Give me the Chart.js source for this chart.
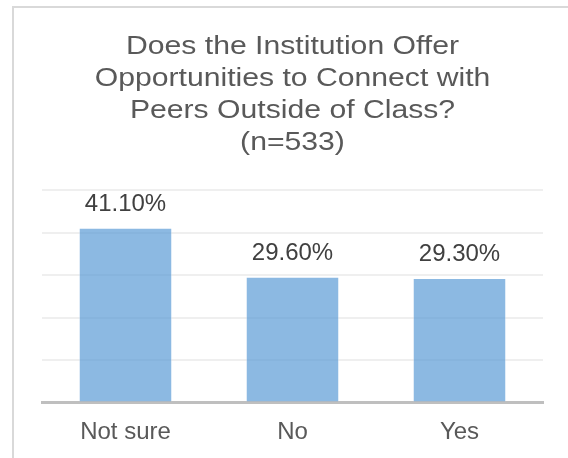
<!DOCTYPE html>
<html>
<head>
<meta charset="utf-8">
<script src="https://cdn.jsdelivr.net/npm/chart.js@4"></script>
<style>
  html, body { margin: 0; padding: 0; background: #fff; }
  #caixa { position: absolute; left: 12px; top: 6px; width: 600px; height: 500px; border: 2px solid #d9d9d9; }
  #grafico { position: absolute; left: 0; top: 0; }
</style>
</head>
<body>
<div id="caixa"></div>
<canvas id="grafico" width="568" height="458"></canvas>
<script>
var categorias = ["Not sure", "No", "Yes"];
var percentuais = [41.1, 29.6, 29.3];
var tituloLinhas = ["Does the Institution Offer", "Opportunities to Connect with", "Peers Outside of Class?", "(n=533)"];

var fonte = "'Liberation Sans', Arial, sans-serif";

// título desenhado à mão: o original tem as letras esticadas na horizontal
var tituloPlugin = {
    id: "tituloEsticado",
    afterDraw: function (chart) {
        var ctx = chart.ctx;
        var area = chart.chartArea;
        var centro = (area.left + area.right) / 2;
        var esticar = 1.16;
        ctx.save();
        ctx.font = "26px " + fonte;
        ctx.fillStyle = "#595959";
        ctx.textAlign = "center";
        ctx.textBaseline = "alphabetic";
        tituloLinhas.forEach(function (linha, i) {
            ctx.save();
            ctx.translate(centro, 53.5 + i * 32.2);
            ctx.scale(esticar, 1);
            ctx.fillText(linha, 0, 0);
            ctx.restore();
        });
        ctx.restore();
    }
};

// rótulos de porcentagem acima de cada barra
var rotulosPlugin = {
    id: "rotulos",
    afterDatasetsDraw: function (chart) {
        var ctx = chart.ctx;
        var meta = chart.getDatasetMeta(0);
        ctx.save();
        ctx.font = "24px " + fonte;
        ctx.fillStyle = "#404040";
        ctx.textAlign = "center";
        ctx.textBaseline = "alphabetic";
        meta.data.forEach(function (barra, i) {
            ctx.fillText(percentuais[i].toFixed(2) + "%", barra.x, barra.y - 17);
        });
        ctx.restore();
    }
};

new Chart(document.getElementById("grafico"), {
    type: "bar",
    data: {
        labels: categorias,
        datasets: [{
            data: percentuais,
            backgroundColor: "rgba(91, 155, 213, 0.7)",
            borderColor: "rgba(255, 255, 255, 0.35)",
            borderWidth: 1,
            barPercentage: 0.56,
            categoryPercentage: 1.0
        }]
    },
    options: {
        responsive: false,
        animation: false,
        layout: { padding: { left: 42, right: 25, top: 190, bottom: 3 } },
        plugins: {
            legend: { display: false },
            tooltip: { enabled: false },
            title: { display: false }
        },
        scales: {
            x: {
                grid: { display: false },
                border: { display: true, color: "#bfbfbf", width: 3 },
                ticks: {
                    color: "#595959",
                    padding: 9,
                    font: { family: fonte, size: 24, lineHeight: 1.1 }
                }
            },
            y: {
                min: 0,
                max: 50,
                ticks: { display: false, stepSize: 10 },
                border: { display: false },
                grid: { color: "#efefef", lineWidth: 2, drawTicks: false }
            }
        }
    },
    plugins: [rotulosPlugin, tituloPlugin]
});
</script>
</body>
</html>
